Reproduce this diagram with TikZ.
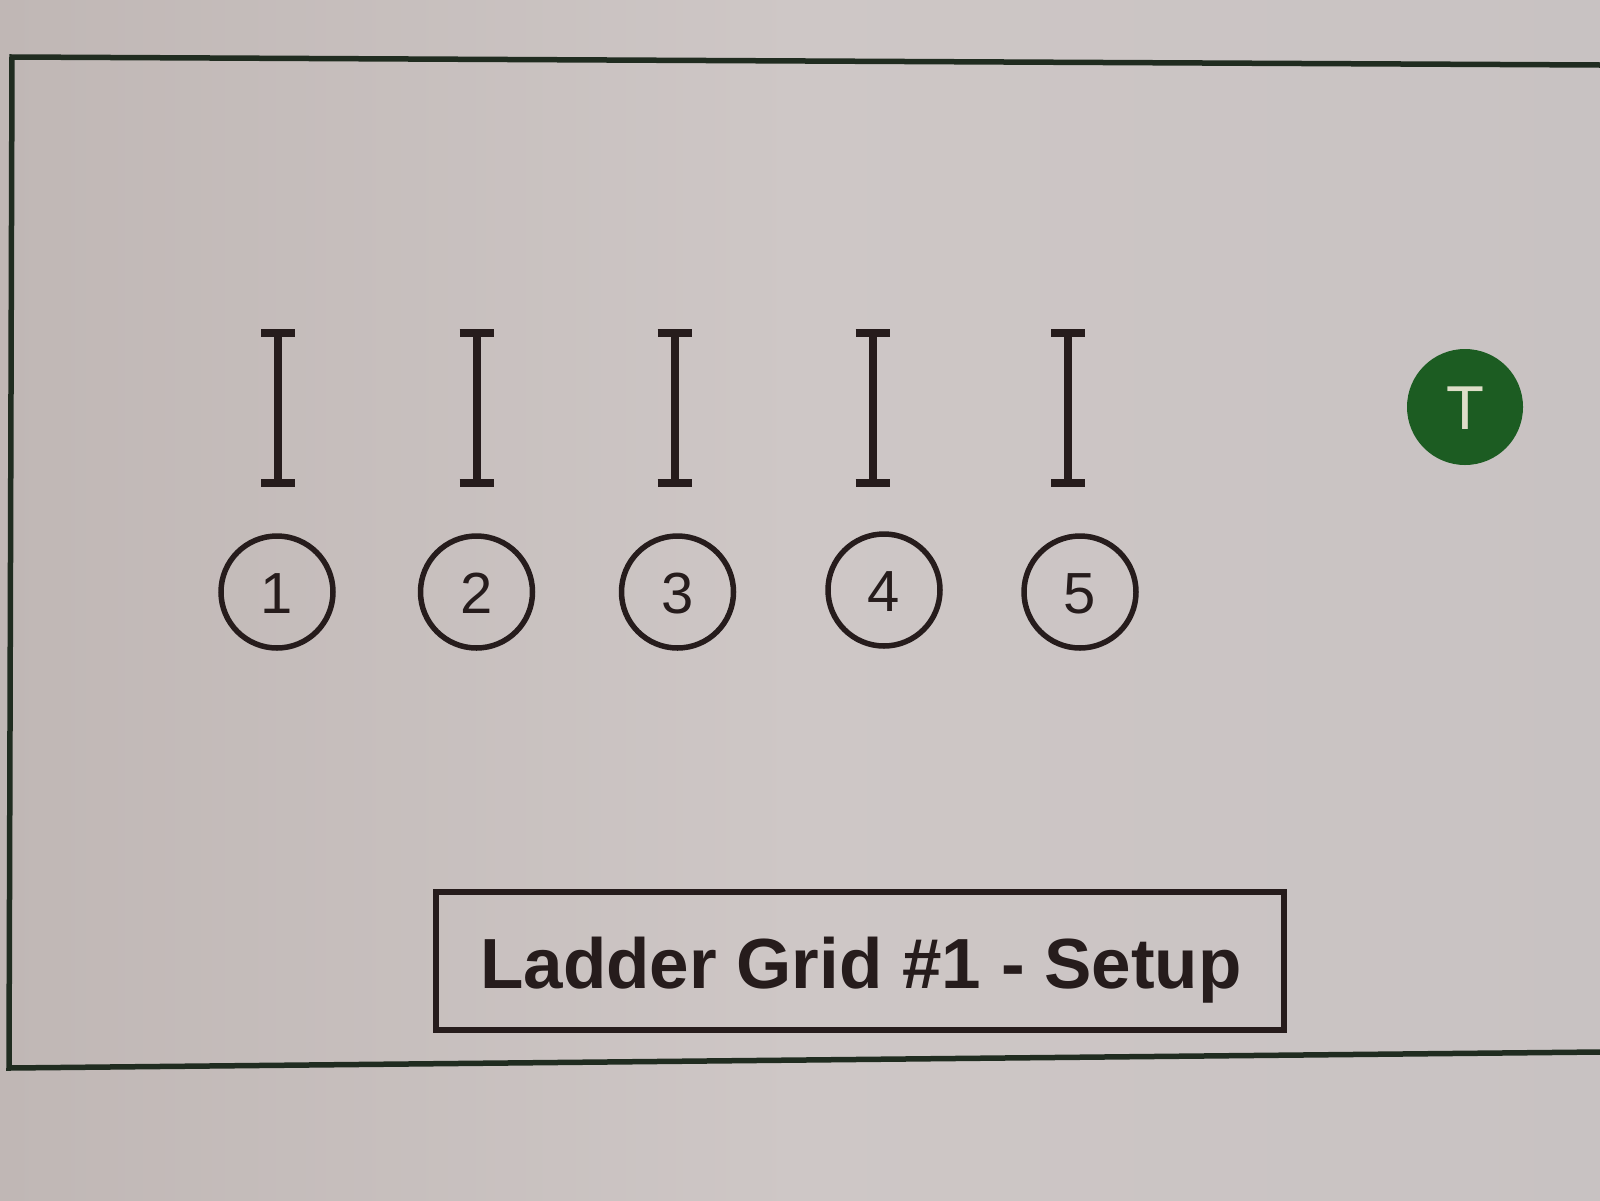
\documentclass[tikz,border=0pt]{standalone}
\usepackage{fontspec}
\setmainfont{Liberation Sans}
\definecolor{paperL}{RGB}{192,183,181}
\definecolor{paperM}{RGB}{206,199,198}
\definecolor{paperR}{RGB}{200,194,194}
\definecolor{ink}{RGB}{38,28,28}
\definecolor{frameink}{RGB}{32,44,32}
\definecolor{tgreen}{RGB}{28,92,34}
\definecolor{tcream}{RGB}{222,222,200}
\tikzset{
  ibeam/.style={draw=ink, line width=8pt},
  numcirc/.style={circle, draw=ink, line width=5.5pt, minimum size=112pt, inner sep=0pt},
  numtext/.style={anchor=base, text=ink, font=\fontsize{58}{60}\selectfont, inner sep=0pt},
  titlebox/.style={draw=ink, line width=6pt},
  frameline/.style={draw=frameink, line width=5.5pt},
}
\begin{document}
\begin{tikzpicture}[x=1pt,y=-1pt]
\useasboundingbox (0,0) rectangle (1600,1200);
\shade[left color=paperL, right color=paperR, middle color=paperM] (0,0) rectangle (1600,1200);
% outer frame
\coordinate (ftr) at (1600,65);
\coordinate (ftl) at (12,57);
\coordinate (fbl) at (9,1068);
\coordinate (fbr) at (1600,1052);
\draw[frameline, line join=miter] (ftr) -- (ftl) -- (fbl) -- (fbr);
% I-beams
\foreach \x [count=\i] in {278,476.5,674.5,872.5,1068}{
  \coordinate (it\i) at (\x,333);
  \coordinate (ib\i) at (\x,483);
  \draw[ibeam] (it\i) -- (ib\i);
  \draw[ibeam] ([xshift=-17pt]it\i) -- ([xshift=17pt]it\i);
  \draw[ibeam] ([xshift=-17pt]ib\i) -- ([xshift=17pt]ib\i);
}
% numbered circles
\foreach \x/\y [count=\i] in {277/592,476.5/592,677.5/592,884/590,1080/592}{
  \node[numcirc] (c\i) at (\x,\y) {};
  \node[numtext] (n\i) at (\x,\y+21) {\i};
}
% T marker
\node[circle, fill=tgreen, minimum size=116pt, inner sep=0pt] (tm) at (1465,407) {};
\node[anchor=base, text=tcream, font=\fontsize{62}{64}\selectfont, inner sep=0pt] (tt) at (1465,429) {T};
% title box
\draw[titlebox] (436,892) rectangle (1284,1030);
\node[anchor=base, text=ink, font=\bfseries\fontsize{71}{74}\selectfont, inner sep=0pt] (title) at (861,988) {Ladder Grid \#1 - Setup};
\end{tikzpicture}
\end{document}
